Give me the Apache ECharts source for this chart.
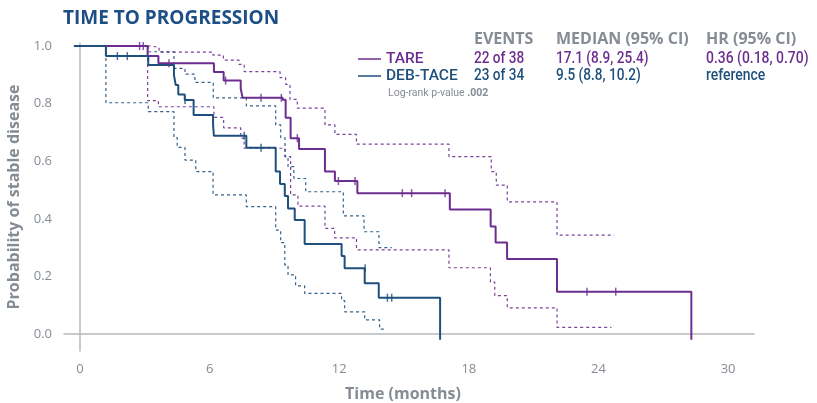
<!DOCTYPE html>
<html>
<head>
<meta charset="utf-8">
<script src="https://cdn.jsdelivr.net/npm/echarts@6/dist/echarts.min.js"></script>
<style>
  html, body { margin: 0; padding: 0; background: #fff; }
  #chart { width: 817px; height: 403px; }
</style>
</head>
<body>
<div id="chart"></div>
<script>
// [months, probability]
let tareCurve = [[-0.28, 1.0], [3.13, 0.965], [3.63, 0.94], [6.2, 0.91], [6.65, 0.88], [7.44, 0.852], [7.53, 0.82],
  [9.38, 0.813], [9.52, 0.751], [9.75, 0.68], [10.14, 0.642], [11.34, 0.564], [11.8, 0.531], [12.84, 0.489],
  [17.12, 0.432], [19.01, 0.373], [19.24, 0.318], [19.77, 0.26], [22.08, 0.147], [28.3, 0.147], [28.3, -0.02]];
let tareUpper = [[3.13, 1.0], [3.27, 0.995], [3.66, 0.979], [6.16, 0.968], [6.64, 0.951], [7.36, 0.936], [7.6, 0.911],
  [9.26, 0.89], [9.52, 0.867], [9.72, 0.815], [10.06, 0.784], [11.34, 0.726], [11.8, 0.693], [12.8, 0.659],
  [17.08, 0.616], [19.04, 0.564], [19.27, 0.517], [19.78, 0.459], [22.08, 0.343], [24.72, 0.343]];
let tareLower = [[3.13, 1.0], [3.13, 0.81], [3.63, 0.789], [6.2, 0.752], [6.65, 0.716], [7.44, 0.68], [7.6, 0.645],
  [9.49, 0.616], [9.75, 0.483], [10.09, 0.444], [11.34, 0.367], [11.79, 0.334], [12.8, 0.292], [17.08, 0.23],
  [19.0, 0.18], [19.2, 0.133], [19.78, 0.091], [22.08, 0.023], [24.6, 0.023]];
let tareCensor = [[2.76, 1.0], [2.93, 1.0], [4.12, 0.94], [6.74, 0.88], [8.38, 0.82], [9.32, 0.82], [10.06, 0.68],
  [11.96, 0.531], [12.73, 0.531], [14.92, 0.489], [15.35, 0.489], [16.9, 0.489], [23.47, 0.147], [24.8, 0.147]];

let taceCurve = [[-0.28, 1.0], [1.2, 0.965], [3.16, 0.934], [4.35, 0.899], [4.43, 0.865], [4.55, 0.832], [4.85, 0.8125],
  [5.26, 0.76], [6.16, 0.726], [6.2, 0.688], [7.7, 0.647], [9.06, 0.564], [9.26, 0.521], [9.48, 0.479], [9.63, 0.436],
  [9.94, 0.396], [10.4, 0.3125], [12.11, 0.271], [12.25, 0.228], [13.18, 0.176], [13.83, 0.126], [16.67, 0.126], [16.67, -0.02]];
let taceUpper = [[1.2, 1.0], [3.16, 0.98], [4.35, 0.922], [4.86, 0.902], [5.32, 0.874], [6.17, 0.82], [7.7, 0.792],
  [9.06, 0.726], [9.29, 0.682], [9.49, 0.616], [9.63, 0.581], [9.9, 0.54], [10.45, 0.494], [12.19, 0.41],
  [13.15, 0.355], [13.84, 0.3], [14.43, 0.3]];
let taceLower = [[1.2, 1.0], [1.2, 0.803], [3.16, 0.772], [4.35, 0.682], [4.5, 0.648], [4.86, 0.604], [5.36, 0.564],
  [6.16, 0.483], [7.7, 0.442], [9.06, 0.361], [9.29, 0.317], [9.48, 0.24], [9.63, 0.205], [9.98, 0.167], [10.4, 0.141],
  [12.11, 0.116], [12.25, 0.077], [13.18, 0.049], [13.87, 0.017], [14.07, 0.017]];
let taceCensor = [[1.73, 0.965], [2.19, 0.965], [4.86, 0.8125], [7.6, 0.688], [8.38, 0.647], [13.2, 0.228],
  [14.23, 0.126], [14.43, 0.126]];

let xTicks = [0, 6, 12, 18, 24, 30];
let yTicks = [0, 0.2, 0.4, 0.6, 0.8, 1.0];

let purple = "#6c2d8f";
let blue = "#1e4f7d";
let gray = "#858c93";
let sans = "'Open Sans', sans-serif";
let narrow = "Roboto, sans-serif";

let chartDom = document.getElementById("chart");
let myChart = echarts.init(chartDom);

function curve(name, data, color) {
  return {
    name: name, type: "line", step: "end", data: data, showSymbol: false, z: 4,
    lineStyle: { color: color, width: 2 }, itemStyle: { color: color },
  };
}
function ci(name, data, color) {
  return {
    name: name, type: "line", step: "end", data: data, showSymbol: false, z: 2,
    lineStyle: { color: color, width: 1.2, type: [3, 3], opacity: 0.9 },
  };
}
function censor(name, data, color) {
  return {
    name: name, type: "scatter", data: data, symbol: "rect", symbolSize: [1.5, 8], z: 5,
    itemStyle: { color: color },
  };
}

function txt(x, y, text, color, size, weight, family, sx) {
  return {
    type: "text", x: x, y: y, scaleX: sx || 1,
    style: {
      text: text, fill: color, fontSize: size, fontWeight: weight || "normal",
      fontFamily: family || sans, verticalAlign: "middle",
    },
  };
}

var option = {
  animation: false,
  grid: { left: 64, right: 63, top: 43, bottom: 52, outerBoundsMode: "none" },
  legend: {
    orient: "vertical", left: 353, top: 46, itemGap: 1, itemWidth: 23, itemHeight: 1.5, icon: "rect",
    data: [
      { name: "TARE", textStyle: { color: purple } },
      { name: "DEB-TACE", textStyle: { color: blue } },
    ],
    textStyle: { fontSize: 15.5, fontWeight: 500, fontFamily: narrow },
  },
  xAxis: {
    type: "value", min: -0.74, max: 31.2,
    name: "Time (months)", nameLocation: "middle", nameGap: 35,
    nameTextStyle: { color: gray, fontSize: 16, fontWeight: "bold", fontFamily: sans, padding: [0, 12, 0, 0] },
    axisLine: { lineStyle: { color: "#b5b9bd", width: 1.5 } },
    axisTick: { show: false }, splitLine: { show: false },
    axisLabel: { customValues: xTicks, color: gray, fontSize: 13, margin: 12, fontFamily: sans },
  },
  yAxis: {
    type: "value", min: -0.059, max: 1.0104,
    name: "Probability of stable disease", nameLocation: "middle", nameGap: 35, nameRotate: 90,
    nameTextStyle: { color: gray, fontSize: 16, fontWeight: "bold", fontFamily: sans },
    axisLine: { show: true, lineStyle: { color: "#b5b9bd", width: 1.5 } },
    axisTick: { show: false }, splitLine: { show: false },
    axisLabel: {
      customValues: yTicks, color: gray, fontSize: 13, margin: 12, fontFamily: sans,
      formatter: function (v) { return v.toFixed(1); },
    },
  },
  graphic: [
    txt(63, 19, "TIME TO PROGRESSION", "#1d4e85", 19, "bold"),
    txt(474, 39, "EVENTS", gray, 16, "bold"),
    txt(556, 39, "MEDIAN (95% CI)", gray, 16, "bold"),
    txt(706, 39, "HR (95% CI)", gray, 16, "bold"),
    txt(474, 59, "22 of 38", purple, 16, 500, narrow, 0.85),
    txt(474, 76, "23 of 34", blue, 16, 500, narrow, 0.85),
    txt(556, 59, "17.1 (8.9, 25.4)", purple, 16, 500, narrow, 0.85),
    txt(556, 76, "9.5 (8.8, 10.2)", blue, 16, 500, narrow, 0.85),
    txt(706, 59, "0.36 (0.18, 0.70)", purple, 16, 500, narrow, 0.87),
    txt(706, 76, "reference", blue, 16, 500, narrow, 0.87),
    {
      type: "text", x: 388, y: 93,
      style: {
        text: "{a|Log-rank p-value }{b|.002}", verticalAlign: "middle",
        rich: {
          a: { fill: gray, fontSize: 10.5, fontFamily: narrow },
          b: { fill: gray, fontSize: 10.5, fontWeight: "bold", fontFamily: narrow },
        },
      },
    },
  ],
  series: [
    ci("TARE upper", tareUpper, purple),
    ci("TARE lower", tareLower, purple),
    ci("DEB-TACE upper", taceUpper, blue),
    ci("DEB-TACE lower", taceLower, blue),
    curve("TARE", tareCurve, purple),
    curve("DEB-TACE", taceCurve, blue),
    censor("TARE censored", tareCensor, purple),
    censor("DEB-TACE censored", taceCensor, blue),
  ],
};

myChart.setOption(option);

window.onresize = function () {
  myChart.resize();
};
</script>
</body>
</html>
